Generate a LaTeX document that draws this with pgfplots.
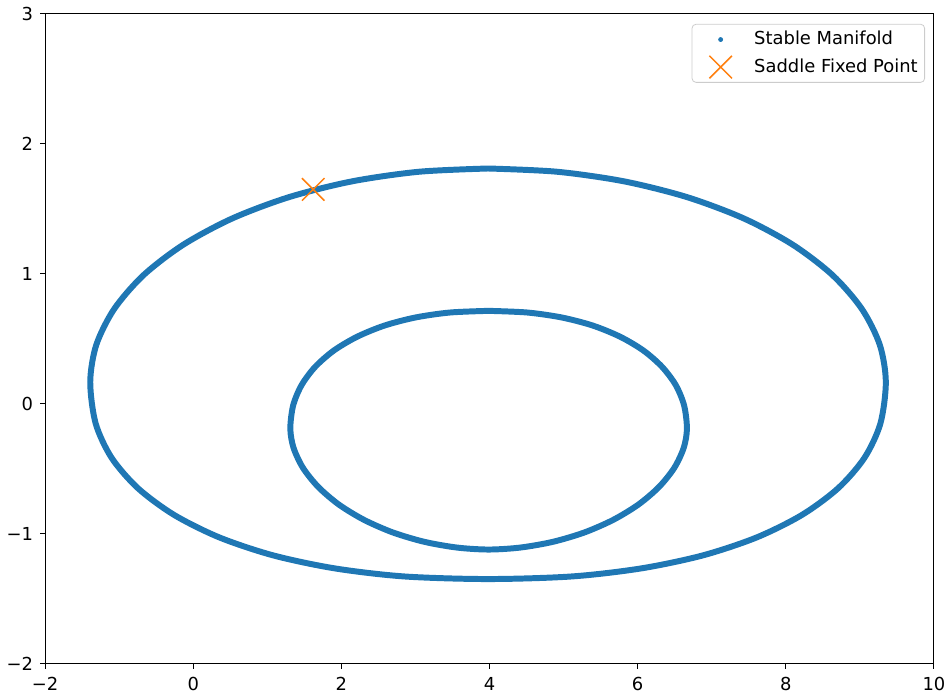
\documentclass[border=0pt]{standalone}
\usepackage{fontspec}
\setmainfont{DejaVu Sans}
\usepackage{pgfplots}
\usepackage{pgfplotstable}
\pgfplotsset{compat=1.18}

\definecolor{mplblue}{HTML}{1F77B4}
\definecolor{mplorange}{HTML}{FF7F0E}

% outer loop of the manifold (starts and ends at the top)
\pgfplotstableread{
x y
3.98 1.811
3.048 1.786
2.143 1.712
1.295 1.591
0.528 1.427
-0.133 1.225
-0.670 0.991
-1.066 0.731
-1.308 0.455
-1.39 0.170
-1.317 -0.150
-1.101 -0.415
-0.745 -0.649
-0.257 -0.854
0.354 -1.027
1.080 -1.165
1.911 -1.265
2.848 -1.327
3.98 -1.347
5.112 -1.327
6.049 -1.265
6.880 -1.165
7.606 -1.027
8.217 -0.854
8.705 -0.649
9.061 -0.415
9.277 -0.150
9.35 0.170
9.268 0.455
9.026 0.731
8.630 0.991
8.093 1.225
7.432 1.427
6.665 1.591
5.817 1.712
4.912 1.786
3.98 1.811
}\outer

% inner loop
\pgfplotstableread{
x y
3.988 0.716
3.463 0.703
3.001 0.665
2.583 0.603
2.213 0.517
1.899 0.411
1.646 0.285
1.462 0.144
1.349 -0.012
1.311 -0.190
1.354 -0.337
1.481 -0.491
1.687 -0.638
1.966 -0.774
2.307 -0.892
2.697 -0.989
3.123 -1.061
3.564 -1.105
3.988 -1.120
4.412 -1.105
4.853 -1.061
5.279 -0.989
5.669 -0.892
6.010 -0.774
6.289 -0.638
6.495 -0.491
6.622 -0.337
6.665 -0.190
6.627 -0.012
6.515 0.144
6.330 0.285
6.077 0.411
5.763 0.517
5.393 0.603
4.975 0.665
4.513 0.703
3.988 0.716
}\inner

\begin{document}
\begin{tikzpicture}
\begin{axis}[
    scale only axis,
    width=446.5pt, height=326.5pt,
    xmin=-2, xmax=10, ymin=-2, ymax=3,
    xtick={-2,0,2,4,6,8,10},
    xticklabels={−2,0,2,4,6,8,10},
    ytick={-2,-1,0,1,2,3},
    yticklabels={−2,−1,0,1,2,3},
    xtick pos=lower, ytick pos=left,
    tick align=outside,
    major tick length=2.5pt,
    tick style={black, line width=0.5pt},
    axis line style={line width=0.5pt},
    ticklabel style={font=\fontsize{9}{11}\selectfont},
    xticklabel style={yshift=-0.5pt},
    legend image code/.code={
        \path (0pt,0pt) (27pt,0pt);
        \draw[#1] plot coordinates {(12.5pt,0pt)};
    },
    legend style={
        at={(rel axis cs:1,1)}, anchor=north east,
        xshift=-4.5pt, yshift=-5pt,
        draw=black!20, rounded corners=2pt,
        font=\fontsize{9}{11}\selectfont,
        row sep=1.5pt, inner sep=1.5pt,
        cells={anchor=west},
    },
    legend cell align=left,
]
\addplot[mplblue, line width=3pt, smooth, line cap=round, forget plot] table {\outer};
\addplot[mplblue, line width=3pt, smooth, line cap=round, forget plot] table {\inner};
\addplot[only marks, mark=*, mark size=1pt, mplblue] table {\outer};
\addlegendentry{Stable Manifold}
\addplot[only marks, mark=x, mark size=8pt, mplorange, line width=0.75pt] coordinates {(1.62,1.65)};
\addlegendentry{Saddle Fixed Point}
\end{axis}
\path ([xshift=-21pt,yshift=-15.5pt]current axis.south west) rectangle ([xshift=8.5pt,yshift=7pt]current axis.north east);
\end{tikzpicture}
\end{document}
